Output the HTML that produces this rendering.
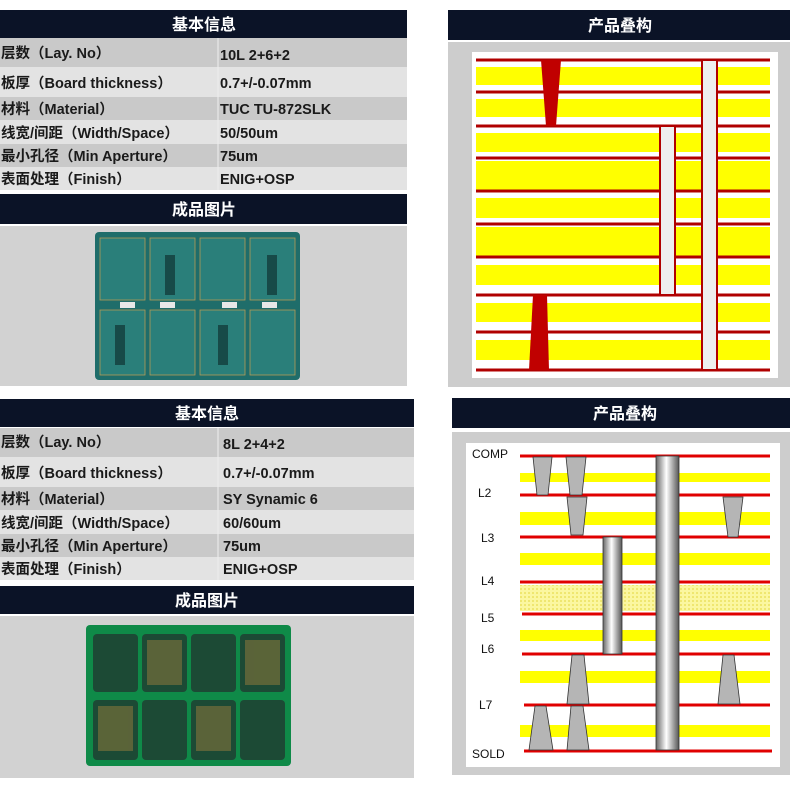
<!DOCTYPE html>
<html><head><meta charset="utf-8"><style>
html,body{margin:0;padding:0;background:#fff;}
svg{display:block}
text{font-family:"Liberation Sans","Noto Sans CJK SC",sans-serif;}
.h{fill:#fff;font-weight:bold;font-size:16px;text-anchor:middle}
.r{fill:#1a1a1a;font-size:14.5px;font-weight:bold}
.l{fill:#111;font-size:12px}
</style></head><body>
<svg width="790" height="787" viewBox="0 0 790 787" xmlns="http://www.w3.org/2000/svg">
<defs>
<linearGradient id="cyl" x1="0" x2="1" y1="0" y2="0">
<stop offset="0" stop-color="#666"/><stop offset="0.45" stop-color="#fff"/><stop offset="1" stop-color="#555"/>
</linearGradient>
<pattern id="dot" width="4" height="4" patternUnits="userSpaceOnUse"><rect width="4" height="4" fill="#fbf7a0"/><rect width="2" height="2" fill="#efe770"/></pattern>
</defs>

<rect x="0" y="10" width="407" height="28" fill="#0b1327"/>
<text class="h" x="204" y="30">基本信息</text>
<rect x="0" y="38" width="407" height="29" fill="#c9c9c9"/>
<rect x="0" y="67" width="407" height="30" fill="#e3e3e3"/>
<rect x="0" y="97" width="407" height="23" fill="#c9c9c9"/>
<rect x="0" y="120" width="407" height="24" fill="#e3e3e3"/>
<rect x="0" y="144" width="407" height="23" fill="#c9c9c9"/>
<rect x="0" y="167" width="407" height="23" fill="#e3e3e3"/>
<line x1="218" y1="38" x2="218" y2="190" stroke="#eee" stroke-width="1"/>
<text class="r" x="1" y="58">层数（Lay. No）</text><text class="r" x="220" y="60">10L  2+6+2</text>
<text class="r" x="1" y="88">板厚（Board thickness）</text><text class="r" x="220" y="88">0.7+/-0.07mm</text>
<text class="r" x="1" y="114">材料（Material）</text><text class="r" x="220" y="114">TUC  TU-872SLK</text>
<text class="r" x="1" y="138">线宽/间距（Width/Space）</text><text class="r" x="220" y="138">50/50um</text>
<text class="r" x="1" y="161">最小孔径（Min Aperture）</text><text class="r" x="220" y="161">75um</text>
<text class="r" x="1" y="184">表面处理（Finish）</text><text class="r" x="220" y="184">ENIG+OSP</text>
<rect x="0" y="194" width="407" height="30" fill="#0b1327"/>
<text class="h" x="204" y="215">成品图片</text>
<rect x="0" y="226" width="407" height="160" fill="#d2d2d2"/>
<rect x="95" y="232" width="205" height="148" rx="4" fill="#1f6d6a"/>
<g fill="#2a7f7a" stroke="#b49a55" stroke-width="0.8">
<rect x="100" y="238" width="45" height="62"/><rect x="150" y="238" width="45" height="62"/><rect x="200" y="238" width="45" height="62"/><rect x="250" y="238" width="45" height="62"/>
<rect x="100" y="310" width="45" height="65"/><rect x="150" y="310" width="45" height="65"/><rect x="200" y="310" width="45" height="65"/><rect x="250" y="310" width="45" height="65"/>
</g>
<g fill="#174a48"><rect x="165" y="255" width="10" height="40"/><rect x="267" y="255" width="10" height="40"/><rect x="115" y="325" width="10" height="40"/><rect x="218" y="325" width="10" height="40"/></g>
<g fill="#e8e8e8"><rect x="120" y="302" width="15" height="6"/><rect x="160" y="302" width="15" height="6"/><rect x="222" y="302" width="15" height="6"/><rect x="262" y="302" width="15" height="6"/></g>

<rect x="448" y="10" width="342" height="30" fill="#0b1327"/>
<text class="h" x="620" y="31">产品叠构</text>
<rect x="448" y="42" width="342" height="345" fill="#cdcdcd"/>
<rect x="472" y="52" width="306" height="326" fill="#fff"/>
<g fill="#ffff00">
<rect x="476" y="67" width="294" height="18"/>
<rect x="476" y="99" width="294" height="18"/>
<rect x="476" y="133" width="294" height="19"/>
<rect x="476" y="161" width="294" height="29"/>
<rect x="476" y="198" width="294" height="20"/>
<rect x="476" y="227" width="294" height="29"/>
<rect x="476" y="265" width="294" height="20"/>
<rect x="476" y="303" width="294" height="19"/>
<rect x="476" y="340" width="294" height="20"/>
</g>
<g stroke="#b00000" stroke-width="3">
<line x1="476" y1="60" x2="770" y2="60"/><line x1="476" y1="92" x2="770" y2="92"/>
<line x1="476" y1="126" x2="770" y2="126"/><line x1="476" y1="158" x2="770" y2="158"/>
<line x1="476" y1="191" x2="770" y2="191"/><line x1="476" y1="224" x2="770" y2="224"/>
<line x1="476" y1="257" x2="770" y2="257"/><line x1="476" y1="295" x2="770" y2="295"/>
<line x1="476" y1="332" x2="770" y2="332"/><line x1="476" y1="370" x2="770" y2="370"/>
</g>
<rect x="660" y="126" width="15" height="169" fill="#eee" stroke="#b00000" stroke-width="2"/>
<rect x="702" y="60" width="15" height="310" fill="#eee" stroke="#b00000" stroke-width="2"/>
<polygon points="541,60 561,60 556,126 546,126" fill="#c00000"/>
<polygon points="533,295 547,295 549,370 529,370" fill="#c00000"/>

<rect x="0" y="399" width="414" height="28" fill="#0b1327"/>
<text class="h" x="207" y="419">基本信息</text>
<rect x="0" y="428" width="414" height="29" fill="#c9c9c9"/>
<rect x="0" y="457" width="414" height="30" fill="#e3e3e3"/>
<rect x="0" y="487" width="414" height="23" fill="#c9c9c9"/>
<rect x="0" y="510" width="414" height="24" fill="#e3e3e3"/>
<rect x="0" y="534" width="414" height="23" fill="#c9c9c9"/>
<rect x="0" y="557" width="414" height="23" fill="#e3e3e3"/>
<line x1="218" y1="428" x2="218" y2="580" stroke="#eee" stroke-width="1"/>
<text class="r" x="1" y="447">层数（Lay. No）</text><text class="r" x="223" y="449">8L  2+4+2</text>
<text class="r" x="1" y="478">板厚（Board thickness）</text><text class="r" x="223" y="478">0.7+/-0.07mm</text>
<text class="r" x="1" y="504">材料（Material）</text><text class="r" x="223" y="504">SY  Synamic 6</text>
<text class="r" x="1" y="528">线宽/间距（Width/Space）</text><text class="r" x="223" y="528">60/60um</text>
<text class="r" x="1" y="551">最小孔径（Min Aperture）</text><text class="r" x="223" y="551">75um</text>
<text class="r" x="1" y="574">表面处理（Finish）</text><text class="r" x="223" y="574">ENIG+OSP</text>
<rect x="0" y="586" width="414" height="28" fill="#0b1327"/>
<text class="h" x="207" y="606">成品图片</text>
<rect x="0" y="616" width="414" height="162" fill="#d2d2d2"/>
<rect x="86" y="625" width="205" height="141" rx="4" fill="#0f8a48"/>
<g fill="#1c4a35">
<rect x="93" y="634" width="45" height="58" rx="4"/><rect x="142" y="634" width="45" height="58" rx="4"/><rect x="191" y="634" width="45" height="58" rx="4"/><rect x="240" y="634" width="45" height="58" rx="4"/>
<rect x="93" y="700" width="45" height="60" rx="4"/><rect x="142" y="700" width="45" height="60" rx="4"/><rect x="191" y="700" width="45" height="60" rx="4"/><rect x="240" y="700" width="45" height="60" rx="4"/>
</g>
<g fill="#6a6a3a" opacity="0.8"><rect x="147" y="640" width="35" height="45"/><rect x="245" y="640" width="35" height="45"/><rect x="98" y="706" width="35" height="45"/><rect x="196" y="706" width="35" height="45"/></g>

<rect x="452" y="398" width="338" height="30" fill="#0b1327"/>
<text class="h" x="625" y="419">产品叠构</text>
<rect x="452" y="432" width="338" height="343" fill="#cdcdcd"/>
<rect x="466" y="443" width="314" height="324" fill="#fff"/>
<g fill="#ffff00">
<rect x="520" y="473" width="250" height="9"/>
<rect x="520" y="512" width="250" height="13"/>
<rect x="520" y="553" width="250" height="12"/>
<rect x="520" y="630" width="250" height="11"/>
<rect x="520" y="671" width="250" height="12"/>
<rect x="520" y="725" width="250" height="12"/>
</g>
<rect x="520" y="585" width="250" height="26" fill="url(#dot)"/>
<g stroke="#e00000" stroke-width="3">
<line x1="520" y1="456" x2="770" y2="456"/><line x1="520" y1="495" x2="770" y2="495"/>
<line x1="520" y1="537" x2="770" y2="537"/><line x1="520" y1="582" x2="770" y2="582"/>
<line x1="522" y1="614" x2="770" y2="614"/><line x1="522" y1="654" x2="770" y2="654"/>
<line x1="524" y1="705" x2="770" y2="705"/><line x1="524" y1="751" x2="772" y2="751"/>
</g>
<g fill="#b5b5b5" stroke="#333" stroke-width="0.8">
<polygon points="533,457 552,457 548,495 537,495"/>
<polygon points="566,457 586,457 582,495 570,495"/>
<polygon points="567,497 587,497 583,535 571,535"/>
<polygon points="723,497 743,497 738,537 728,537"/>
<polygon points="572,655 584,655 589,704 567,704"/>
<polygon points="723,655 734,655 740,704 718,704"/>
<polygon points="535,706 546,706 553,750 529,750"/>
<polygon points="571,706 583,706 589,750 567,750"/>
</g>
<rect x="603" y="537" width="19" height="117" fill="url(#cyl)" stroke="#333" stroke-width="0.8"/>
<rect x="656" y="456" width="23" height="294" fill="url(#cyl)" stroke="#333" stroke-width="0.8"/>
<text class="l" x="472" y="458">COMP</text>
<text class="l" x="478" y="497">L2</text>
<text class="l" x="481" y="542">L3</text>
<text class="l" x="481" y="585">L4</text>
<text class="l" x="481" y="622">L5</text>
<text class="l" x="481" y="653">L6</text>
<text class="l" x="479" y="709">L7</text>
<text class="l" x="472" y="758">SOLD</text>
</svg>
</body></html>
